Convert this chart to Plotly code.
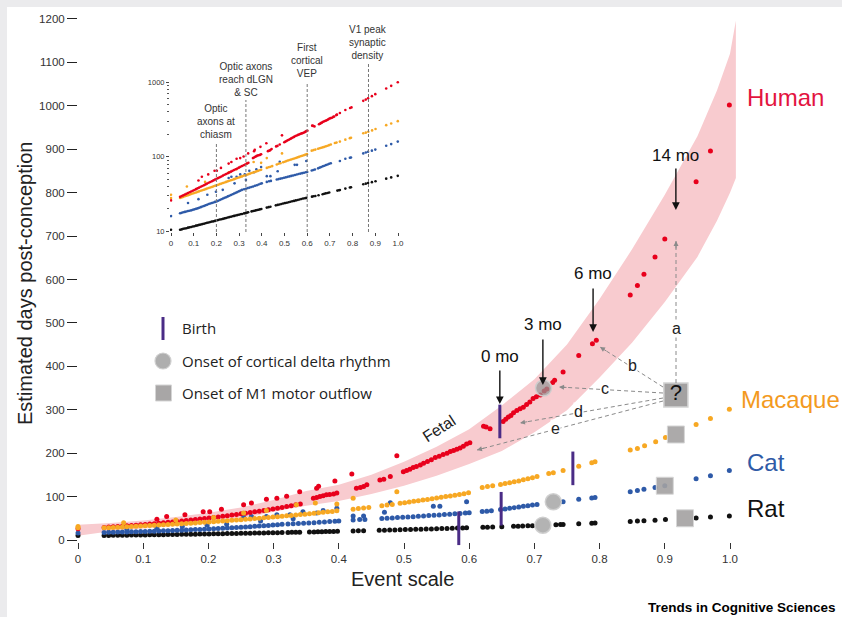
import math
import plotly.graph_objects as go

# ---------------- data (event scale, estimated days post-conception) ----------------
rat_pts = [(0.000, 10.5), (0.040, 10.5), (0.047, 10.6), (0.054, 10.8), (0.061, 10.9), (0.068, 11.0), (0.075, 11.2),
           (0.082, 11.3), (0.089, 11.4), (0.096, 11.6), (0.103, 11.7), (0.110, 11.9), (0.117, 12.0), (0.124, 12.2),
           (0.131, 12.3), (0.138, 12.5), (0.145, 12.6), (0.152, 12.8), (0.159, 13.0), (0.166, 13.1), (0.173, 13.3),
           (0.180, 13.5), (0.187, 13.6), (0.194, 13.8), (0.201, 14.0), (0.208, 14.2), (0.215, 14.4), (0.222, 14.5),
           (0.229, 14.7), (0.236, 14.9), (0.243, 15.1), (0.250, 15.3), (0.257, 15.5), (0.264, 15.7), (0.271, 15.9),
           (0.278, 16.1), (0.285, 16.3), (0.292, 16.5), (0.299, 16.7), (0.306, 16.9), (0.313, 17.1), (0.322, 17.4),
           (0.328, 17.6), (0.334, 17.8), (0.340, 18.0), (0.355, 18.5), (0.362, 18.7), (0.368, 18.9), (0.374, 19.1),
           (0.380, 19.3), (0.386, 19.5), (0.392, 19.7), (0.398, 19.9), (0.422, 20.8), (0.430, 21.1), (0.438, 21.4),
           (0.462, 22.3), (0.470, 22.6), (0.478, 22.9), (0.486, 23.2), (0.494, 23.6), (0.502, 23.9), (0.510, 24.2),
           (0.518, 24.6), (0.526, 24.9), (0.534, 25.3), (0.542, 25.6), (0.550, 26.0), (0.558, 26.3), (0.566, 26.7),
           (0.574, 27.1), (0.582, 27.5), (0.590, 27.8), (0.596, 28.1), (0.621, 29.2), (0.628, 29.5), (0.636, 29.8),
           (0.650, 30.5), (0.668, 31.5), (0.675, 31.9), (0.682, 32.3), (0.690, 32.7), (0.697, 33.1), (0.733, 35.2),
           (0.740, 35.6), (0.744, 35.9), (0.768, 37.4), (0.788, 38.7), (0.793, 39.0), (0.847, 42.8), (0.858, 43.6),
           (0.868, 44.4), (0.885, 45.7), (0.901, 47.0), (0.948, 50.9), (0.970, 52.9), (0.999, 55.5)]

cat_pts = [(0.000, 16.0), (0.040, 17.5), (0.047, 17.7), (0.054, 18.0), (0.061, 18.2), (0.068, 18.4), (0.075, 18.7),
           (0.082, 18.9), (0.089, 19.1), (0.096, 19.4), (0.103, 19.7), (0.110, 20.0), (0.117, 20.3), (0.124, 20.7),
           (0.131, 21.1), (0.138, 21.5), (0.145, 21.9), (0.152, 22.3), (0.159, 22.7), (0.166, 23.2), (0.173, 23.6),
           (0.180, 24.0), (0.187, 24.4), (0.194, 24.8), (0.201, 25.1), (0.208, 25.7), (0.215, 26.3), (0.222, 26.9),
           (0.229, 27.5), (0.236, 28.1), (0.243, 28.7), (0.250, 29.4), (0.257, 30.0), (0.264, 30.7), (0.271, 31.4),
           (0.278, 32.1), (0.285, 32.8), (0.292, 33.6), (0.299, 34.4), (0.306, 35.2), (0.313, 36.0), (0.322, 36.7),
           (0.330, 37.3), (0.338, 38.0), (0.346, 38.6), (0.354, 39.3), (0.362, 40.0), (0.370, 40.8), (0.378, 41.6),
           (0.386, 42.5), (0.394, 43.4), (0.400, 44.0), (0.422, 46.0), (0.432, 47.0), (0.440, 47.5), (0.466, 49.5),
           (0.474, 50.2), (0.482, 50.9), (0.490, 51.6), (0.498, 52.3), (0.506, 53.0), (0.514, 53.8), (0.522, 54.6),
           (0.530, 55.4), (0.538, 56.2), (0.546, 57.0), (0.554, 57.8), (0.562, 58.7), (0.570, 59.5), (0.578, 60.3),
           (0.586, 61.1), (0.594, 62.0), (0.600, 62.6), (0.620, 65.5), (0.627, 66.5), (0.634, 67.5), (0.648, 70.0),
           (0.655, 71.5), (0.662, 73.0), (0.669, 74.5), (0.676, 76.0), (0.683, 77.5), (0.690, 79.0), (0.697, 80.5),
           (0.704, 82.0), (0.744, 88.0), (0.768, 94.0), (0.788, 97.0), (0.793, 98.0), (0.847, 111.0), (0.858, 114.0),
           (0.868, 117.0), (0.885, 121.0), (0.900, 125.0), (0.948, 141.0), (0.970, 148.0), (0.999, 160.0),
           (0.075, 24.0), (0.121, 27.0), (0.160, 31.0), (0.198, 34.0), (0.228, 36.0), (0.254, 52.0), (0.266, 54.0),
           (0.280, 44.0), (0.289, 54.0), (0.305, 58.0), (0.325, 58.0), (0.330, 49.0), (0.345, 65.0), (0.366, 62.0),
           (0.376, 68.0), (0.397, 73.0), (0.422, 55.0), (0.438, 55.0), (0.470, 64.0), (0.479, 86.0), (0.545, 78.0),
           (0.555, 78.0), (0.596, 88.0)]

macaque_pts = [(0.000, 31.0), (0.000, 28.0), (0.040, 28.0), (0.047, 28.5), (0.054, 29.0), (0.061, 29.5), (0.068, 30.0),
               (0.075, 30.5), (0.082, 31.0), (0.089, 31.6), (0.096, 32.1), (0.103, 32.7), (0.110, 33.2), (0.117, 33.8),
               (0.124, 34.4), (0.131, 35.0), (0.138, 35.6), (0.145, 36.2), (0.152, 36.8), (0.159, 37.5), (0.166, 38.1),
               (0.173, 38.8), (0.180, 39.4), (0.187, 40.1), (0.194, 40.8), (0.201, 41.5), (0.208, 42.2), (0.215, 43.0),
               (0.222, 43.7), (0.229, 44.5), (0.236, 45.2), (0.243, 46.0), (0.250, 46.8), (0.257, 47.6), (0.264, 48.4),
               (0.271, 49.3), (0.278, 50.1), (0.285, 51.0), (0.292, 51.9), (0.299, 52.8), (0.306, 53.7), (0.313, 54.6),
               (0.320, 55.6), (0.327, 56.5), (0.334, 57.5), (0.341, 58.5), (0.348, 59.5), (0.355, 60.5), (0.362, 61.6),
               (0.369, 62.6), (0.376, 63.7), (0.383, 64.8), (0.390, 65.9), (0.397, 67.1), (0.422, 71.0), (0.430, 72.5),
               (0.438, 73.5), (0.446, 75.0), (0.466, 79.0), (0.474, 80.5), (0.482, 82.0), (0.494, 84.5), (0.501, 86.0),
               (0.508, 87.5), (0.515, 89.0), (0.522, 90.5), (0.529, 92.0), (0.536, 93.5), (0.543, 95.0), (0.550, 96.5),
               (0.557, 98.2), (0.564, 99.9), (0.571, 101.6), (0.578, 103.3), (0.585, 105.0), (0.592, 106.8),
               (0.599, 108.6), (0.620, 121.0), (0.628, 123.0), (0.636, 125.0), (0.648, 128.0), (0.655, 130.0),
               (0.662, 132.0), (0.669, 134.0), (0.676, 136.0), (0.683, 138.5), (0.690, 141.0), (0.697, 143.5),
               (0.704, 146.0), (0.722, 153.0), (0.729, 155.0), (0.744, 160.0), (0.768, 170.0), (0.788, 178.0),
               (0.793, 180.0), (0.847, 207.0), (0.858, 211.0), (0.869, 217.0), (0.886, 226.0), (0.901, 236.0),
               (0.948, 266.0), (0.970, 280.0), (0.999, 301.0),
               (0.070, 40.0), (0.150, 46.0), (0.208, 52.0), (0.254, 62.0), (0.289, 68.0), (0.335, 81.0), (0.364, 85.0),
               (0.397, 83.0), (0.422, 96.0), (0.489, 111.0)]

human_pts = [(0.000, 26.0), (0.040, 29.0), (0.047, 29.7), (0.054, 30.4), (0.061, 31.1), (0.068, 31.8), (0.075, 32.6),
             (0.082, 33.4), (0.089, 34.2), (0.096, 35.0), (0.103, 35.9), (0.110, 36.8), (0.117, 37.7), (0.124, 38.6),
             (0.131, 39.6), (0.138, 40.6), (0.145, 41.6), (0.152, 42.6), (0.159, 43.7), (0.166, 44.8), (0.173, 45.9),
             (0.180, 47.0), (0.187, 48.2), (0.194, 49.4), (0.201, 50.6), (0.208, 51.9), (0.215, 53.2), (0.222, 54.5),
             (0.229, 55.9), (0.236, 57.3), (0.243, 58.7), (0.250, 60.2), (0.257, 61.7), (0.264, 63.2), (0.271, 64.8),
             (0.278, 66.4), (0.285, 68.1), (0.292, 69.8), (0.299, 71.5), (0.306, 73.3), (0.313, 75.1), (0.320, 77.0),
             (0.327, 79.0), (0.334, 81.0), (0.341, 83.0), (0.361, 96.0), (0.366, 98.0), (0.371, 100.0), (0.376, 102.0),
             (0.381, 104.0), (0.386, 105.0), (0.392, 106.0), (0.397, 108.0), (0.427, 119.0), (0.433, 121.0),
             (0.438, 123.0), (0.443, 127.0), (0.463, 138.0), (0.469, 140.0), (0.479, 146.0), (0.499, 157.0),
             (0.504, 160.0), (0.509, 163.0), (0.514, 167.0), (0.519, 169.0), (0.525, 173.0), (0.530, 177.0),
             (0.536, 181.0), (0.542, 185.0), (0.548, 190.0), (0.554, 193.0), (0.560, 197.0), (0.566, 200.0),
             (0.571, 204.0), (0.576, 206.0), (0.581, 209.0), (0.586, 212.0), (0.591, 216.0), (0.596, 221.0),
             (0.601, 224.0), (0.622, 262.0), (0.626, 260.0), (0.632, 256.0), (0.652, 273.0), (0.656, 278.0),
             (0.660, 283.0), (0.664, 287.0), (0.668, 293.0), (0.673, 298.0), (0.678, 302.0), (0.683, 306.0),
             (0.688, 312.0), (0.693, 318.0), (0.698, 326.0), (0.703, 330.0), (0.709, 334.0), (0.715, 343.0),
             (0.719, 348.0), (0.728, 363.0), (0.731, 368.0), (0.744, 387.0), (0.768, 425.0), (0.789, 452.0),
             (0.795, 460.0), (0.847, 564.0), (0.858, 586.0), (0.868, 612.0), (0.885, 652.0), (0.900, 693.0),
             (0.948, 825.0), (0.970, 896.0), (0.999, 1002.0),
             (0.121, 48.0), (0.136, 54.0), (0.164, 58.0), (0.192, 65.0), (0.202, 65.0), (0.220, 71.0), (0.254, 81.0),
             (0.266, 85.0), (0.289, 94.0), (0.305, 96.0), (0.320, 101.0), (0.340, 111.0), (0.366, 119.0),
             (0.369, 124.0), (0.394, 136.0), (0.420, 152.0), (0.489, 194.0)]

# human trajectory band
band_x = [0.00, 0.05, 0.10, 0.15, 0.20, 0.25, 0.30, 0.35, 0.40, 0.45, 0.50, 0.55, 0.60, 0.65, 0.70, 0.75,
          0.80, 0.85, 0.90, 0.95, 0.98, 1.00, 1.009]
band_upper = [35, 39, 45, 53, 63, 75, 92, 113, 127, 150, 180, 215, 255, 310, 370, 450,
              555, 670, 795, 930, 1035, 1120, 1196]
band_lower = [10, 20, 27, 33, 40, 49, 65, 79, 90, 106, 125, 148, 175, 205, 248, 299,
              374, 455, 548, 652, 735, 800, 834]

# milestones: human, macaque, cat, rat
birth_x = [0.647, 0.759, 0.649, 0.584]
birth_y = [273, 165, 72, 27]
delta_x = [0.714, 0.729, 0.713]          # human, cat, rat
delta_y = [350, 88, 34]
m1_x = [0.917, 0.900, 0.931]             # macaque, cat, rat
m1_y = [243, 125, 50]
unknown_x = [0.917]                      # human M1 onset (unknown)
unknown_y = [334]

age_labels = ["0 mo", "3 mo", "6 mo", "14 mo"]
age_x = [0.647, 0.713, 0.790, 0.917]
age_y = [313, 357, 479, 760]

species = ["Human", "Macaque", "Cat", "Rat"]
species_colors = ["#e3143f", "#f39a1e", "#2f5aa6", "#111111"]
point_colors = {"Human": "#e8001c", "Macaque": "#f7a823", "Cat": "#2e5aa8", "Rat": "#111111"}

inset_event_labels = ["Optic<br>axons at<br>chiasm", "Optic axons<br>reach dLGN<br>& SC",
                      "First<br>cortical<br>VEP", "V1 peak<br>synaptic<br>density"]
inset_event_x = [0.2, 0.33, 0.6, 0.87]

x_ticks = [0, 0.1, 0.2, 0.3, 0.4, 0.5, 0.6, 0.7, 0.8, 0.9, 1.0]
x_ticktext = ["0", "0.1", "0.2", "0.3", "0.4", "0.5", "0.6", "0.7", "0.8", "0.9", "1.0"]
y_ticks = list(range(0, 1201, 100))

# ---------------- geometry helpers (pixels -> paper / data) ----------------
W, H = 842, 617
L, R, T, B = 78, 780, 15, 542
X0PX, XSCALE = 78, 652.0      # px of x=0, px per unit
Y0PX, YSCALE = 540, 0.4342    # py of y=0, px per day


def PX(px):
    return (px - L) / (R - L)


def PY(py):
    return (B - py) / (B - T)


def DX(px):
    return (px - X0PX) / XSCALE


def DY(py):
    return (Y0PX - py) / YSCALE


FONT = "Liberation Sans, Arial, Helvetica, sans-serif"
LEGFONT = "Open Sans, Noto Sans, sans-serif"

fig = go.Figure()

# band
fig.add_trace(go.Scatter(x=band_x + band_x[::-1], y=band_upper + band_lower[::-1], fill="toself",
                         fillcolor="#f8cbcf", line=dict(width=0), mode="lines", hoverinfo="skip",
                         showlegend=False))

series = {"Rat": rat_pts, "Cat": cat_pts, "Human": human_pts, "Macaque": macaque_pts}
for name in ["Rat", "Cat", "Human", "Macaque"]:
    pts = series[name]
    fig.add_trace(go.Scatter(x=[p[0] for p in pts], y=[p[1] for p in pts], mode="markers",
                             marker=dict(size=5, color=point_colors[name], line=dict(width=0)),
                             cliponaxis=False, showlegend=False, name=name))

# birth marks
fig.add_trace(go.Scatter(x=birth_x, y=birth_y, mode="markers", cliponaxis=False, showlegend=False,
                         marker=dict(symbol="line-ns", size=24, line=dict(width=3, color="#4a2c86"))))
# delta rhythm onset
fig.add_trace(go.Scatter(x=delta_x, y=delta_y, mode="markers", cliponaxis=False, showlegend=False,
                         marker=dict(symbol="circle", size=16, color="rgba(150,150,150,0.72)",
                                     line=dict(width=1.5, color="rgba(205,205,205,0.95)"))))
# M1 outflow onset
fig.add_trace(go.Scatter(x=m1_x, y=m1_y, mode="markers", cliponaxis=False, showlegend=False,
                         marker=dict(symbol="square", size=17, color="rgba(163,161,161,0.9)",
                                     line=dict(width=1, color="rgba(215,215,215,1)"))))
# unknown human M1
fig.add_trace(go.Scatter(x=unknown_x, y=unknown_y, mode="markers+text", text=["?"], cliponaxis=False,
                         textposition="middle center", showlegend=False,
                         textfont=dict(size=22, color="#111", family=FONT),
                         marker=dict(symbol="square", size=24, color="#a3a1a1",
                                     line=dict(width=1.5, color="#d2d2d2"))))

# inset traces (log scale)
for name in ["Rat", "Cat", "Macaque", "Human"]:
    pts = series[name]
    fig.add_trace(go.Scatter(x=[p[0] for p in pts], y=[p[1] for p in pts], mode="markers",
                             marker=dict(size=2.6, color=point_colors[name], line=dict(width=0)),
                             xaxis="x2", yaxis="y2", showlegend=False, name=name + " (log)"))

annotations = []
shapes = []

# white page on grey frame
shapes.append(dict(type="rect", xref="paper", yref="paper", x0=PX(7), x1=PX(860), y0=PY(640), y1=PY(7),
                   fillcolor="white", line=dict(width=0), layer="below"))

# age arrows
arrow_len = [35, 47, 45, 43]
text_off = [48, 60, 59, 55]
for lab, x, y, al, to in zip(age_labels, age_x, age_y, arrow_len, text_off):
    annotations.append(dict(x=x, y=y, xref="x", yref="y", text="", showarrow=True, ax=0, ay=-al,
                            arrowhead=2, arrowsize=1.1, arrowwidth=1.4, arrowcolor="#111", standoff=0))
    annotations.append(dict(x=x, y=y, xref="x", yref="y", text=lab, showarrow=False, yshift=to,
                            xanchor="center", yanchor="middle",
                            font=dict(size=17, color="#111", family=FONT)))

# dashed grey arrows from the unknown box (pixel geometry)
dash_arrows = [("a", (676, 383), (676, 241), (676, 328)),
               ("b", (663, 387), (600, 347), (632, 365)),
               ("c", (663, 393), (559, 387), (605, 388)),
               ("d", (663, 398), (520, 423), (578, 411)),
               ("e", (663, 401), (477, 450), (555, 428))]
for lab, (tx, ty), (hx, hy), (lx, ly) in dash_arrows:
    shapes.append(dict(type="line", xref="x", yref="y", x0=DX(tx), y0=DY(ty), x1=DX(hx), y1=DY(hy),
                       line=dict(color="#8a8a8a", width=1, dash="4px,3px")))
    d = math.hypot(tx - hx, ty - hy)
    annotations.append(dict(x=DX(hx), y=DY(hy), xref="x", yref="y", text="", showarrow=True,
                            ax=(tx - hx) / d * 9, ay=(ty - hy) / d * 9, arrowhead=2, arrowsize=1,
                            arrowwidth=1, arrowcolor="#8a8a8a", standoff=0))
    annotations.append(dict(x=DX(lx), y=DY(ly), xref="x", yref="y", text=lab, showarrow=False,
                            xanchor="center", yanchor="middle",
                            bgcolor="white", borderpad=0, font=dict(size=16, color="#222", family=FONT)))

# species labels
species_pos = [(745, 98), (739, 399), (745, 462), (745, 508)]
for name, col, (px, py) in zip(species, species_colors, species_pos):
    annotations.append(dict(x=PX(px), y=PY(py), xref="paper", yref="paper", text=name, showarrow=False,
                            xanchor="left", yanchor="middle", font=dict(size=24, color=col, family=FONT)))

# Fetal
annotations.append(dict(x=DX(439), y=DY(428), xref="x", yref="y", text="Fetal", showarrow=False,
                        xanchor="center", yanchor="middle",
                        textangle=-33, font=dict(size=16, color="#222", family=FONT)))

# axis titles
annotations.append(dict(x=PX(402.5), y=PY(579), xref="paper", yref="paper", text="Event scale",
                        xanchor="center", yanchor="middle",
                        showarrow=False, font=dict(size=20, color="#222", family=FONT)))
annotations.append(dict(x=PX(25), y=PY(283), xref="paper", yref="paper", text="Estimated days post-conception",
                        xanchor="center", yanchor="middle",
                        showarrow=False, textangle=-90, font=dict(size=20, color="#222", family=FONT)))

# source
annotations.append(dict(x=PX(646), y=PY(607), xref="paper", yref="paper",
                        text="<b>Trends in Cognitive Sciences</b>", showarrow=False, xanchor="left",
                        yanchor="middle", font=dict(size=13.5, color="#000", family=FONT)))

# manual legend
shapes.append(dict(type="line", xref="paper", yref="paper", x0=PX(163), x1=PX(163), y0=PY(340), y1=PY(317),
                   line=dict(color="#4a2c86", width=3)))
shapes.append(dict(type="circle", xref="paper", yref="paper", x0=PX(155), x1=PX(171), y0=PY(369), y1=PY(353),
                   fillcolor="rgba(160,160,160,0.85)", line=dict(color="#cfcfcf", width=1.2)))
shapes.append(dict(type="rect", xref="paper", yref="paper", x0=PX(155.5), x1=PX(171.5), y0=PY(401), y1=PY(385),
                   fillcolor="#a8a6a6", line=dict(color="#d5d5d5", width=1)))
for txt, py in [("Birth", 328), ("Onset of cortical delta rhythm", 361), ("Onset of M1 motor outflow", 393)]:
    annotations.append(dict(x=PX(180), y=PY(py), xref="paper", yref="paper", text=txt, showarrow=False,
                            xanchor="left", yanchor="middle", font=dict(size=15, color="#222", family=LEGFONT)))

# inset event lines + labels
inset_tops = [142, 100, 83, 62]
inset_centers = [122, 80, 60, 43]
for lab, x, top, cy in zip(inset_event_labels, inset_event_x, inset_tops, inset_centers):
    shapes.append(dict(type="line", xref="x2", yref="paper", x0=x, x1=x, y0=PY(232), y1=PY(top),
                       line=dict(color="#777", width=1, dash="3px,2px")))
    annotations.append(dict(x=x, y=PY(cy), xref="x2", yref="paper", text=lab, showarrow=False,
                            xanchor="center", yanchor="middle", font=dict(size=10, color="#333", family=FONT)))

# inset geometry: x=0 at px 171, 227 px per unit; y=10 at py 231.3, 74.5 px per decade
IX0, ISC = 171.0, 227.0
IY10, IDEC = 231.3, 74.5
in_l, in_r, in_b, in_t = 170, 400, 232, 60
ix_range = [(in_l - IX0) / ISC, (in_r - IX0) / ISC]
iy_range = [1 + (IY10 - in_b) / IDEC, 1 + (IY10 - in_t) / IDEC]

minor_vals = [20, 30, 40, 50, 60, 70, 80, 90, 200, 300, 400, 500, 600, 700, 800, 900]

fig.update_layout(
    width=W, height=H, autosize=False,
    margin=dict(l=L, r=W - R, t=T, b=H - B, pad=0),
    paper_bgcolor="#ebebed", plot_bgcolor="white",
    font=dict(family=FONT, color="#222"),
    showlegend=False,
    xaxis=dict(range=[DX(L), DX(R)], tickvals=x_ticks, ticktext=x_ticktext, ticks="outside", ticklen=6,
               tickwidth=1, tickcolor="#333", showline=False, showgrid=False, zeroline=False,
               tickfont=dict(size=11.5, color="#333")),
    yaxis=dict(range=[DY(B), DY(T)], tickvals=y_ticks, ticks="outside", ticklen=10, tickwidth=1.3,
               tickcolor="#222", showline=False, showgrid=False, zeroline=False,
               tickfont=dict(size=11.5, color="#333")),
    xaxis2=dict(domain=[PX(in_l), PX(in_r)], anchor="y2", range=ix_range, tickvals=x_ticks,
                ticktext=x_ticktext, ticks="outside", ticklen=3, tickwidth=1, tickcolor="#444",
                showline=False, showgrid=False, zeroline=False, tickfont=dict(size=8, color="#333")),
    yaxis2=dict(domain=[PY(in_b), PY(in_t)], anchor="x2", type="log", range=iy_range,
                tickvals=[10, 100, 1000], ticktext=["10", "100", "1000"], ticks="outside", ticklen=3,
                tickwidth=1, tickcolor="#444", showline=False, showgrid=False, zeroline=False,
                tickfont=dict(size=7.5, color="#333"),
                minor=dict(tickvals=minor_vals, ticks="outside", ticklen=2, tickwidth=1, tickcolor="#555")),
    shapes=shapes,
    annotations=annotations,
)

fig.write_html("out.html", config={"displayModeBar": False},
               post_script="document.body.style.margin='0px';document.body.style.overflow='hidden';")
